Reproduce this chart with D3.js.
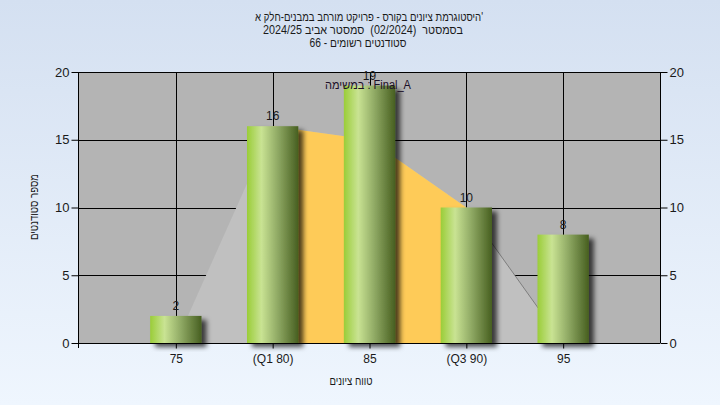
<!DOCTYPE html>
<html>
<head>
<meta charset="utf-8">
<script src="https://cdn.jsdelivr.net/npm/d3@7"></script>
<style>
  body { margin: 0; }
  svg { display: block; font-family: "Liberation Sans", Arial, sans-serif; }
  text { white-space: pre; }
</style>
</head>
<body>
<svg width="720" height="405"></svg>
<script>
// chart data
const grades = [75, 80, 85, 90, 95];
const tickLabels = ['75', '(Q1 80)', '85', '(Q3 90)', '95'];
const counts = [2, 16, 19, 10, 8];
const curve = [0, 16, 15, 10, 0];   // background distribution shape
const q1 = 80, q3 = 90;
const yTicks = [0, 5, 10, 15, 20];
const titleLines = [
	"היסטוגרמת ציונים בקורס - פרויקט מורחב במבנים-חלק א'",
	'בסמסטר  (02/2024)  סמסטר אביב 2024/25',
	'סטודנטים רשומים - 66'
];
const taskLabel = 'במשימה : Final_A';

const svg = d3.select('svg'),
	width = +svg.attr('width'),
	height = +svg.attr('height');

const margin = { left: 79, right: 60, top: 72, bottom: 62 };

const x = d3.scaleLinear().domain([70, 100]).range([margin.left, width - margin.right]);
const y = d3.scaleLinear().domain([0, 20]).range([height - margin.bottom, margin.top]);

const defs = svg.append('defs');

const bg = defs.append('linearGradient').attr('id', 'bg')
	.attr('x1', 0).attr('y1', 0).attr('x2', 0).attr('y2', 1);
bg.append('stop').attr('offset', '0%').attr('stop-color', '#d4e0f1');
bg.append('stop').attr('offset', '100%').attr('stop-color', '#eff6fe');

const barGrad = defs.append('linearGradient').attr('id', 'barGrad')
	.attr('x1', 0).attr('y1', 0).attr('x2', 1).attr('y2', 0);
barGrad.append('stop').attr('offset', '0%').attr('stop-color', '#9acd38');
barGrad.append('stop').attr('offset', '28%').attr('stop-color', '#c9e393');
barGrad.append('stop').attr('offset', '60%').attr('stop-color', '#8fa964');
barGrad.append('stop').attr('offset', '100%').attr('stop-color', '#475f20');

const shadow = defs.append('filter').attr('id', 'shadow')
	.attr('x', '-20%').attr('y', '-20%').attr('width', '150%').attr('height', '150%');
shadow.append('feDropShadow')
	.attr('dx', 5).attr('dy', 4).attr('stdDeviation', 2.5)
	.attr('flood-color', '#000').attr('flood-opacity', 0.7);

defs.append('clipPath').attr('id', 'midClip').append('rect')
	.attr('x', x(q1)).attr('y', y(20))
	.attr('width', x(q3) - x(q1)).attr('height', y(0) - y(20));

// background
svg.append('rect').attr('width', width).attr('height', height).attr('fill', 'url(#bg)');

// plot area
svg.append('rect')
	.attr('x', x(70)).attr('y', y(20))
	.attr('width', x(100) - x(70)).attr('height', y(0) - y(20))
	.attr('fill', '#b4b4b4');

// grid
const grid = svg.append('g').attr('stroke', '#000').attr('stroke-width', 1);
grid.selectAll('.vg').data(grades).enter().append('line')
	.attr('x1', d => Math.round(x(d)) + 0.5).attr('x2', d => Math.round(x(d)) + 0.5)
	.attr('y1', y(20)).attr('y2', y(0));
grid.selectAll('.hg').data(yTicks.slice(1)).enter().append('line')
	.attr('x1', x(70)).attr('x2', x(100))
	.attr('y1', d => Math.round(y(d)) + 0.5).attr('y2', d => Math.round(y(d)) + 0.5);

// distribution area
const pts = grades.map((g, i) => [g, curve[i]]);
const area = d3.area()
	.x(d => x(d[0]))
	.y0(y(0))
	.y1(d => y(d[1]));

svg.append('path').datum(pts).attr('d', area).attr('fill', '#c0c0c0');
svg.append('path').datum(pts).attr('d', area).attr('fill', '#fecb58')
	.attr('clip-path', 'url(#midClip)');
svg.append('path').datum(pts.filter(d => d[0] >= q3))
	.attr('d', d3.line().x(d => x(d[0])).y(d => y(d[1])))
	.attr('fill', 'none').attr('stroke', '#6e6e6e').attr('stroke-width', 0.8);

// axes
const yLeft = d3.axisLeft(y).tickValues(yTicks).tickSize(7).tickPadding(2);
const yRight = d3.axisRight(y).tickValues(yTicks).tickSize(7).tickPadding(2);
const xAxis = d3.axisBottom(x).tickValues(grades)
	.tickFormat((d, i) => tickLabels[i]).tickSize(5).tickPadding(6);

function styleAxis(g, size) {
	g.select('.domain').remove();
	g.selectAll('line').attr('stroke', '#000');
	g.selectAll('text').attr('fill', '#1a1a1a').attr('font-size', size)
		.attr('font-family', '"Liberation Sans", Arial, sans-serif');
}

svg.append('g').attr('transform', `translate(${x(70) - 0.5},0)`).call(yLeft).call(g => styleAxis(g, 13));
svg.append('g').attr('transform', `translate(${x(100) + 0.5},0)`).call(yRight).call(g => styleAxis(g, 13));

// frame
svg.append('line').attr('x1', x(70) - 0.5).attr('x2', x(70) - 0.5).attr('y1', y(20)).attr('y2', y(0) + 5).attr('stroke', '#000');
svg.append('line').attr('x1', x(100) + 0.5).attr('x2', x(100) + 0.5).attr('y1', y(20)).attr('y2', y(0)).attr('stroke', '#000');

// bars
const barW = (x(80) - x(75)) * 0.53;
svg.append('g').selectAll('rect').data(counts).enter().append('rect')
	.attr('x', (d, i) => x(grades[i]) - barW / 2)
	.attr('y', d => y(d))
	.attr('width', barW)
	.attr('height', d => y(0) - y(d))
	.attr('fill', 'url(#barGrad)')
	.attr('filter', 'url(#shadow)');

// x axis on top of bars
svg.append('g').attr('transform', `translate(0,${Math.round(y(0)) + 0.5})`).call(xAxis)
	.call(g => styleAxis(g, 12));
svg.append('line').attr('x1', x(70)).attr('x2', x(100))
	.attr('y1', Math.round(y(0)) + 0.5).attr('y2', Math.round(y(0)) + 0.5).attr('stroke', '#000');

// value labels
svg.append('g').selectAll('text').data(counts).enter().append('text')
	.attr('x', (d, i) => x(grades[i]))
	.attr('y', d => y(d) - 6)
	.attr('text-anchor', 'middle')
	.attr('font-size', 12)
	.attr('fill', '#1a1a1a')
	.text(d => d);

// task label (hebrew glyphs in the original font are narrower)
svg.append('text')
	.attr('x', 368).attr('y', 89)
	.attr('text-anchor', 'middle')
	.attr('font-size', 12)
	.attr('textLength', 86).attr('lengthAdjust', 'spacingAndGlyphs')
	.attr('fill', '#1c1028')
	.text(taskLabel);

// title
const titleX = [369, 363, 358], titleW = [228, 200, 97];
svg.append('g').selectAll('text').data(titleLines).enter().append('text')
	.attr('x', (d, i) => titleX[i])
	.attr('y', (d, i) => 21 + i * 13)
	.attr('text-anchor', 'middle')
	.attr('font-size', 12)
	.attr('textLength', (d, i) => titleW[i]).attr('lengthAdjust', 'spacingAndGlyphs')
	.attr('fill', '#1a1a1a')
	.text(d => d);

// axis titles
svg.append('text')
	.attr('x', 351).attr('y', 385)
	.attr('text-anchor', 'middle')
	.attr('font-size', 12)
	.attr('textLength', 43).attr('lengthAdjust', 'spacingAndGlyphs')
	.attr('fill', '#1a1a1a')
	.text('טווח ציונים');

svg.append('text')
	.attr('transform', 'translate(38,207) rotate(-90)')
	.attr('text-anchor', 'middle')
	.attr('font-size', 12)
	.attr('textLength', 66).attr('lengthAdjust', 'spacingAndGlyphs')
	.attr('fill', '#1a1a1a')
	.text('מספר סטודנטים');
</script>
</body>
</html>
